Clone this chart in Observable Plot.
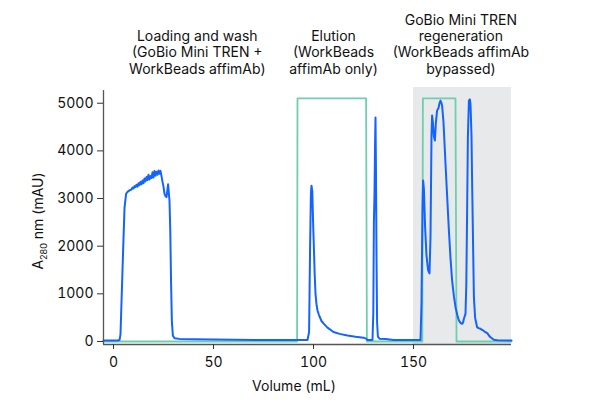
<!DOCTYPE html>
<html>
<head>
<meta charset="utf-8">
<script src="https://cdn.jsdelivr.net/npm/d3@7"></script>
<script src="https://cdn.jsdelivr.net/npm/@observablehq/plot@0.6"></script>
<style>
  html, body { margin: 0; padding: 0; background: #fff; }
  #chart { width: 593px; height: 412px; }
</style>
</head>
<body>
<div id="chart"></div>
<script>
// UV absorbance trace (A280, mAU) vs volume (mL)
const uvVolume = [-5,2,3,3.5,4.5,5.5,6.3,7,8,9,9.5,10,10.5,11,11.5,12,12.5,13,13.5,14,14.5,15,15.5,16,16.5,17,17.5,18,18.5,19,19.5,20,20.5,21,21.5,22,22.5,23,23.5,24,24.5,25,25.5,26,26.5,27,27.3,27.6,28,28.4,28.8,29.2,29.7,30.5,33,40,60,80,97,97.8,98.3,98.7,99,99.4,99.8,100.2,100.6,101,101.5,102,102.7,104,105.2,107,110,113,117,121,125,126.3,127,129.5,129.9,130.2,130.5,130.8,131,131.2,131.5,131.8,132.2,133,136,140,153.5,154,154.5,154.8,155.2,155.8,156.5,157.3,158,158.5,159,159.3,159.7,160.2,160.7,161.2,161.8,162.5,163,163.5,164,164.3,165,166,167,167.7,168.5,169.3,170.2,171,172,172.7,173.5,174.3,174.8,175.2,176,176.4,176.8,177.2,177.7,178.2,178.5,179,179.3,179.8,180.2,180.8,181.8,182.5,183.5,184.5,186,187,187.7,188.5,190.2,192,199];
const uvAbs = [20,20,30,150,1500,2800,3100,3140,3170,3190,3230,3210,3260,3240,3290,3250,3320,3280,3350,3300,3380,3320,3420,3360,3450,3390,3500,3400,3470,3430,3550,3440,3580,3480,3560,3500,3590,3520,3580,3470,3350,3250,3100,3050,3030,3200,3300,3150,2950,2300,1200,400,120,70,55,45,35,30,30,200,2000,3100,3270,3150,2500,1950,1400,1000,780,650,560,430,370,290,200,160,125,100,80,60,30,30,600,2500,3100,4200,4700,3800,1800,400,100,60,50,30,30,800,2800,3380,3200,2400,1800,1500,1430,2200,4300,4740,4600,4300,4216,4600,4845,4900,5000,5055,5000,4950,4600,3727,2900,2328,1750,1280,950,720,540,440,390,371,400,476,580,1200,2685,4300,5055,5080,4985,4300,3377,2000,930,500,300,280,266,240,195,170,126,90,35,25,20];

// Gradient / buffer trace
const gradVolume = [-5,91.8,92,126.3,126.7,154.4,154.7,171,171.5,199];
const gradLevel  = [0,0,5100,5100,0,0,5100,5100,0,0];

// Shaded regeneration window
const regenStart = 150;
const regenEnd = 199;

// Phase annotations
const phaseLabels = [
  "Loading and wash\n(GoBio Mini TREN +\nWorkBeads affimAb)",
  "Elution\n(WorkBeads\naffimAb only)",
  "GoBio Mini TREN\nregeneration\n(WorkBeads affimAb\nbypassed)"
];
const phaseCenters = [41.9, 110, 173.7];

const xTicks = [0, 50, 100, 150];
const yTicks = [0, 1000, 2000, 3000, 4000, 5000];
const xLabel = "Volume (mL)";

const uv = uvVolume.map((v, i) => ({v, a: uvAbs[i]}));
const grad = gradVolume.map((v, i) => ({v, a: gradLevel[i]}));
const phases = phaseLabels.map((t, i) => ({t, x: phaseCenters[i]}));

const yMin = -63, yMax = 5330, yAxisTop = 5265, xMin = -5, xMax = 199;

const chart = Plot.plot({
  width: 593,
  height: 412,
  marginLeft: 103,
  marginRight: 82,
  marginTop: 87,
  marginBottom: 68,
  x: {domain: [xMin, xMax]},
  y: {domain: [yMin, yMax]},
  style: {fontFamily: "Inter, 'Noto Sans', sans-serif", fontSize: "14px", color: "#111", background: "#fff", overflow: "visible"},
  marks: [
    Plot.rect([{x1: regenStart, x2: regenEnd}], {x1: "x1", x2: "x2", y1: yMin, y2: yMax, fill: "#e8e9eb"}),
    Plot.line(grad, {x: "v", y: "a", stroke: "#6dcfae", strokeWidth: 1.8}),
    Plot.line(uv, {x: "v", y: "a", stroke: "#1463ff", strokeWidth: 2}),
    Plot.ruleX([xMin], {y1: yMin, y2: yAxisTop, stroke: "#555", strokeWidth: 1.3}),
    Plot.ruleY([yMin], {x1: xMin, x2: xMax, stroke: "#555", strokeWidth: 1.3}),
    Plot.axisX({ticks: xTicks, tickSize: 5, tickPadding: 8, label: null, stroke: "#333", tickFormat: d3.format("d")}),
    Plot.axisY({ticks: yTicks, tickSize: 6, tickPadding: 4, label: null, stroke: "#333", tickFormat: d3.format("d")}),
    Plot.text(phases, {x: "x", text: "t", frameAnchor: "top", dy: -14, lineAnchor: "bottom", lineHeight: 1.15, fill: "#111", fontSize: 14})
  ]
});

const svg = d3.select(chart);
svg.append("text")
  .attr("x", 294).attr("y", 391)
  .attr("text-anchor", "middle")
  .attr("fill", "#111")
  .attr("font-size", 14)
  .text(xLabel);

const yl = svg.append("text")
  .attr("transform", "translate(43,221) rotate(-90)")
  .attr("text-anchor", "middle")
  .attr("fill", "#111")
  .attr("font-size", 14);
yl.append("tspan").text("A");
yl.append("tspan").attr("font-size", 9).attr("dy", 4).text("280");
yl.append("tspan").attr("dy", -4).text(" nm (mAU)");

document.getElementById("chart").appendChild(chart);
</script>
</body>
</html>
